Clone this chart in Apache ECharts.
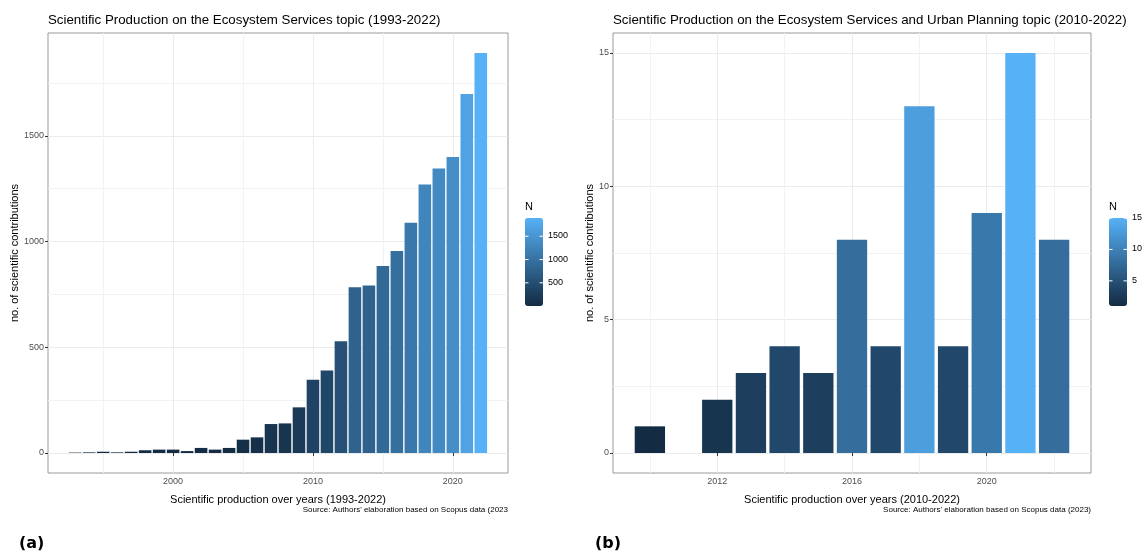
<!DOCTYPE html>
<html>
<head>
<meta charset="utf-8">
<script src="https://cdn.jsdelivr.net/npm/echarts@6/dist/echarts.min.js"></script>
<style>
    html, body { margin: 0; padding: 0; background: #fff; }
    #chart { width: 1145px; height: 554px; }
</style>
</head>
<body>
<div id="chart"></div>
<script>
    // (a) Ecosystem Services, 1993-2022
    const yearsA = [1993, 1994, 1995, 1996, 1997, 1998, 1999, 2000, 2001, 2002,
        2003, 2004, 2005, 2006, 2007, 2008, 2009, 2010, 2011, 2012,
        2013, 2014, 2015, 2016, 2017, 2018, 2019, 2020, 2021, 2022];
    const countsA = [2, 3, 6, 3, 6, 13, 16, 16, 9, 24,
        16, 24, 63, 74, 137, 140, 216, 347, 390, 529,
        784, 792, 884, 955, 1089, 1270, 1346, 1400, 1698, 1892];
    const xTicksA = [2000, 2010, 2020];
    const xMinorA = [1995, 2005, 2015];
    const yTicksA = [0, 500, 1000, 1500];
    const yMinorA = [250, 750, 1250, 1750];
    const legendTicksA = [500, 1000, 1500];

    // (b) Ecosystem Services and Urban Planning, 2010-2022 (no 2011)
    const yearsB = [2010, 2012, 2013, 2014, 2015, 2016, 2017, 2018, 2019, 2020, 2021, 2022];
    const countsB = [1, 2, 3, 4, 3, 8, 4, 13, 4, 9, 15, 8];
    const xTicksB = [2012, 2016, 2020];
    const xMinorB = [2010, 2014, 2018, 2022];
    const yTicksB = [0, 5, 10, 15];
    const yMinorB = [2.5, 7.5, 12.5];
    const legendTicksB = [5, 10, 15];

    const FONT = 'Liberation Sans';
    const LOW = '#132B43', HIGH = '#56B1F7';
    const barH = 88, barW = 18, barTop = 218;

    // ggplot style expansion of 5% around the data range
    function expand(lo, hi) {
        const d = (hi - lo) * 0.05;
        return [lo - d, hi + d];
    }

    const xrA = expand(yearsA[0] - 0.45, yearsA[yearsA.length - 1] + 0.45);
    const yrA = expand(0, Math.max(...countsA));
    const xrB = expand(yearsB[0] - 0.45, yearsB[yearsB.length - 1] + 0.45);
    const yrB = expand(0, Math.max(...countsB));

    const plain = v => String(v);

    function axisPair(gi, range, ticks, minor) {
        return [{
            type: 'value', gridIndex: gi, min: range[0], max: range[1],
            axisLine: { show: false },
            axisTick: { show: true, customValues: ticks, length: 3, lineStyle: { color: '#333' } },
            axisLabel: { customValues: ticks, formatter: plain, color: '#4D4D4D', fontSize: 9, fontFamily: FONT, margin: 4 },
            splitLine: { show: true, lineStyle: { color: '#EBEBEB', width: 1 } }
        }, {
            type: 'value', gridIndex: gi, min: range[0], max: range[1],
            axisLine: { show: false },
            axisTick: { show: false, customValues: minor },
            axisLabel: { show: false, customValues: minor },
            splitLine: { show: true, lineStyle: { color: '#F2F2F2', width: 1 } }
        }];
    }

    const xA = axisPair(0, xrA, xTicksA, xMinorA);
    xA[0].name = 'Scientific production over years (1993-2022)';
    const xB = axisPair(1, xrB, xTicksB, xMinorB);
    xB[0].name = 'Scientific production over years (2010-2022)';
    const yA = axisPair(0, yrA, yTicksA, yMinorA);
    yA[0].name = 'no. of scientific contributions';
    const yB = axisPair(1, yrB, yTicksB, yMinorB);
    yB[0].name = 'no. of scientific contributions';
    [xA[0], xB[0]].forEach(a => {
        a.nameLocation = 'middle';
        a.nameGap = 21;
        a.nameTextStyle = { fontSize: 11, color: '#000', fontFamily: FONT };
    });
    [yA[0], yB[0]].forEach(a => {
        a.nameLocation = 'middle';
        a.nameRotate = 90;
        a.nameTextStyle = { fontSize: 11, color: '#000', fontFamily: FONT };
    });
    yA[0].nameGap = 22;
    yB[0].nameGap = 17;

    // colourbar tick labels and white tick marks
    function legendBits(left, ticks, lo, hi) {
        const out = [];
        ticks.forEach(v => {
            const y = barTop + barH * (hi - v) / (hi - lo);
            out.push({ type: 'text', left: left + barW + 5, top: y - 5,
                style: { text: String(v), fontSize: 9, fill: '#000', fontFamily: FONT } });
            out.push({ type: 'line', z: 100, shape: { x1: left, y1: y, x2: left + 3.5, y2: y },
                style: { stroke: '#fff', lineWidth: 1 } });
            out.push({ type: 'line', z: 100, shape: { x1: left + barW - 3.5, y1: y, x2: left + barW, y2: y },
                style: { stroke: '#fff', lineWidth: 1 } });
        });
        return out;
    }

    const legLeftA = 525, legLeftB = 1109;

    const chart = echarts.init(document.getElementById('chart'));
    chart.setOption({
        animation: false,
        textStyle: { fontFamily: FONT },
        title: [
            { text: 'Scientific Production on the Ecosystem Services topic (1993-2022)', left: 48, top: 14, padding: 0,
                textStyle: { fontSize: 13.3, fontWeight: 'normal', color: '#000', fontFamily: FONT } },
            { text: 'Scientific Production on the Ecosystem Services and Urban Planning topic (2010-2022)', left: 613, top: 14, padding: 0,
                textStyle: { fontSize: 13.3, fontWeight: 'normal', color: '#000', fontFamily: FONT } },
            { text: "Source: Authors' elaboration based on Scopus data (2023", right: 1145 - 508, top: 506, padding: 0,
                textStyle: { fontSize: 8, fontWeight: 'normal', color: '#000', fontFamily: FONT } },
            { text: "Source: Authors' elaboration based on Scopus data (2023)", right: 1145 - 1091, top: 506, padding: 0,
                textStyle: { fontSize: 8, fontWeight: 'normal', color: '#000', fontFamily: FONT } },
            { text: 'N', left: legLeftA, top: 201, padding: 0,
                textStyle: { fontSize: 11, fontWeight: 'normal', color: '#000', fontFamily: FONT } },
            { text: 'N', left: legLeftB, top: 201, padding: 0,
                textStyle: { fontSize: 11, fontWeight: 'normal', color: '#000', fontFamily: FONT } },
            { text: '(a)', left: 19, top: 536, padding: 0,
                textStyle: { fontSize: 16, fontWeight: 'bold', color: '#000', fontFamily: 'DejaVu Sans' } },
            { text: '(b)', left: 595, top: 536, padding: 0,
                textStyle: { fontSize: 16, fontWeight: 'bold', color: '#000', fontFamily: 'DejaVu Sans' } }
        ],
        grid: [
            { left: 48, top: 33, width: 460, height: 440, show: true, borderColor: '#9a9a9a', borderWidth: 1, backgroundColor: 'transparent' },
            { left: 613, top: 33, width: 478, height: 440, show: true, borderColor: '#9a9a9a', borderWidth: 1, backgroundColor: 'transparent' }
        ],
        xAxis: [...xA, ...xB],
        yAxis: [...yA, ...yB],
        visualMap: [
            { type: 'continuous', seriesIndex: 0, dimension: 1, min: Math.min(...countsA), max: Math.max(...countsA),
                inRange: { color: [LOW, HIGH] }, calculable: false, hoverLink: false, text: null, showLabel: false,
                itemWidth: barW, itemHeight: barH, left: legLeftA, top: barTop, padding: 0 },
            { type: 'continuous', seriesIndex: 1, dimension: 1, min: Math.min(...countsB), max: Math.max(...countsB),
                inRange: { color: [LOW, HIGH] }, calculable: false, hoverLink: false, text: null, showLabel: false,
                itemWidth: barW, itemHeight: barH, left: legLeftB, top: barTop, padding: 0 }
        ],
        graphic: [
            ...legendBits(legLeftA, legendTicksA, Math.min(...countsA), Math.max(...countsA)),
            ...legendBits(legLeftB, legendTicksB, Math.min(...countsB), Math.max(...countsB))
        ],
        series: [
            { type: 'bar', xAxisIndex: 0, yAxisIndex: 0, barWidth: '90%',
                data: yearsA.map((y, i) => [y, countsA[i]]) },
            { type: 'bar', xAxisIndex: 2, yAxisIndex: 2, barWidth: '90%',
                data: yearsB.map((y, i) => [y, countsB[i]]) }
        ]
    });
</script>
</body>
</html>
